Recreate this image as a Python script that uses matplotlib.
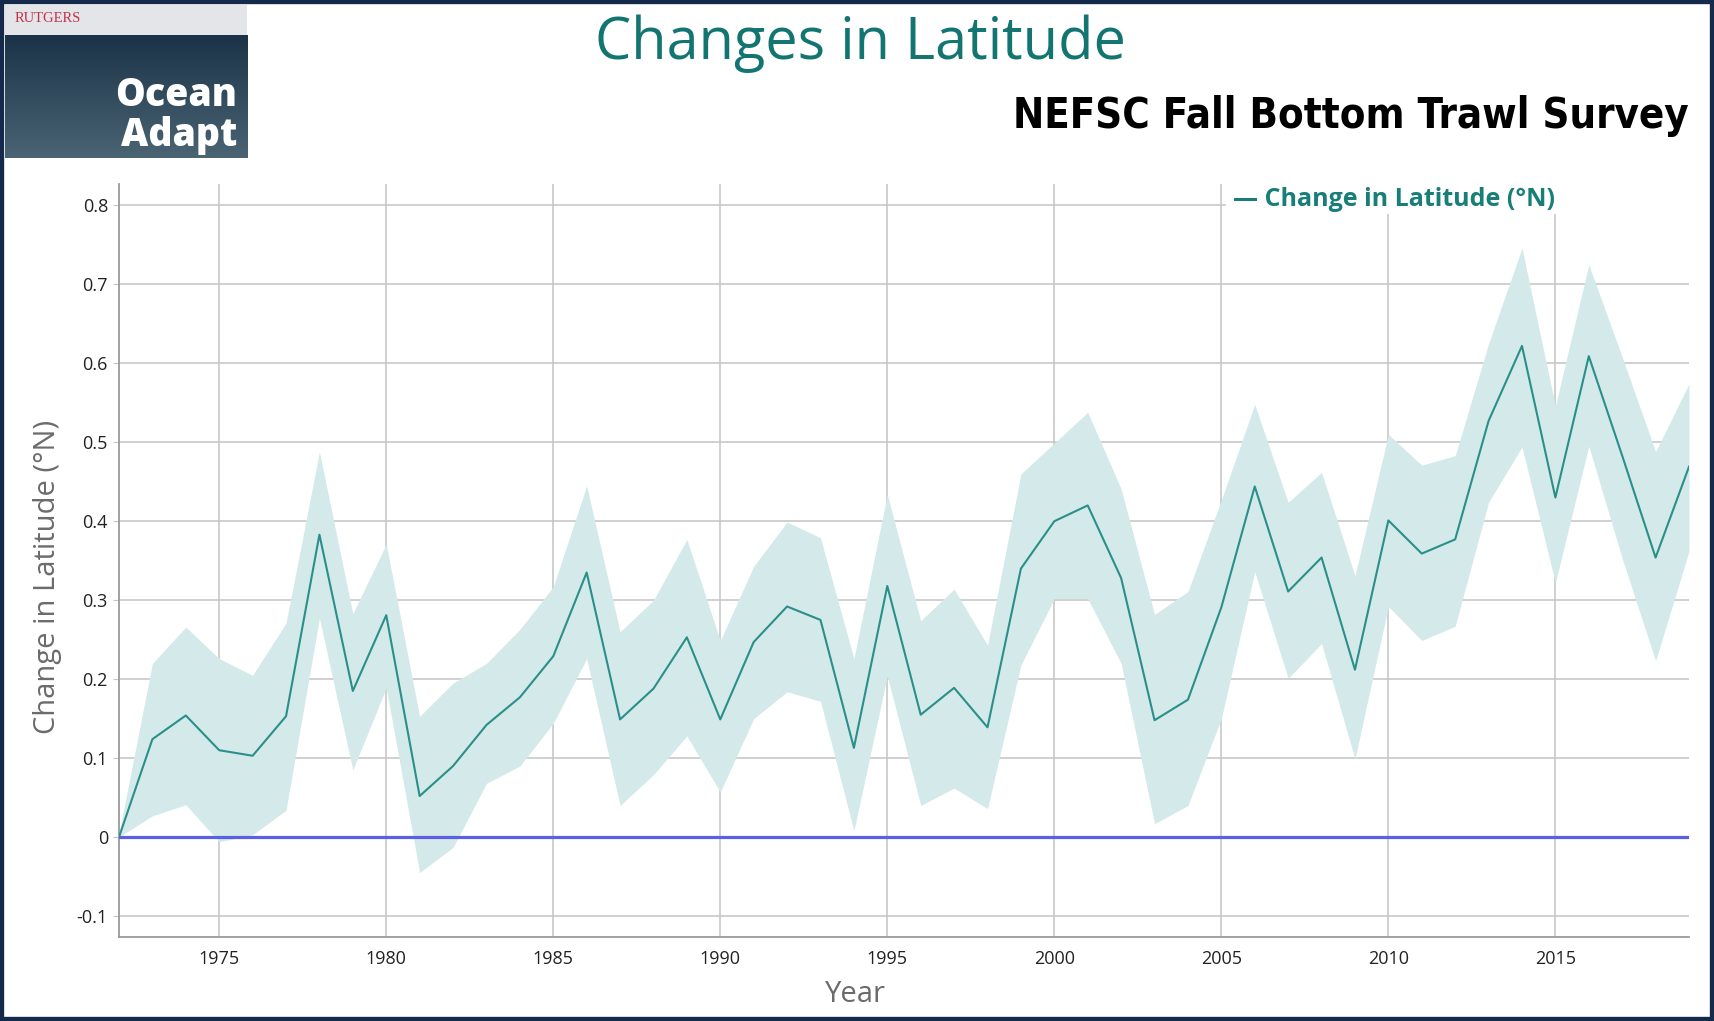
import matplotlib.pyplot as plt
import numpy as np
from matplotlib.patches import Rectangle
from matplotlib.colors import LinearSegmentedColormap

# data
years = list(range(1972, 2020))
mean_lat = [0.0, 0.124, 0.154, 0.110, 0.103, 0.153, 0.383, 0.185, 0.281, 0.052,
            0.090, 0.142, 0.177, 0.229, 0.335, 0.149, 0.188, 0.253, 0.149, 0.247,
            0.292, 0.275, 0.113, 0.318, 0.155, 0.189, 0.139, 0.340, 0.400, 0.420,
            0.328, 0.148, 0.174, 0.291, 0.444, 0.311, 0.354, 0.212, 0.401, 0.359,
            0.377, 0.527, 0.622, 0.430, 0.609, 0.483, 0.354, 0.469]
upper_lat = [0.005, 0.220, 0.266, 0.226, 0.205, 0.271, 0.488, 0.283, 0.371, 0.153,
             0.195, 0.220, 0.263, 0.317, 0.445, 0.260, 0.300, 0.377, 0.249, 0.343,
             0.399, 0.379, 0.226, 0.434, 0.274, 0.314, 0.243, 0.460, 0.499, 0.538,
             0.441, 0.282, 0.311, 0.427, 0.548, 0.424, 0.462, 0.331, 0.510, 0.471,
             0.483, 0.625, 0.746, 0.546, 0.725, 0.608, 0.488, 0.574]
lower_lat = [0.0, 0.027, 0.041, -0.006, 0.003, 0.034, 0.277, 0.085, 0.189, -0.045,
             -0.013, 0.068, 0.090, 0.144, 0.226, 0.040, 0.079, 0.128, 0.057, 0.150,
             0.184, 0.172, 0.008, 0.204, 0.040, 0.062, 0.036, 0.218, 0.302, 0.302,
             0.220, 0.017, 0.040, 0.150, 0.336, 0.201, 0.245, 0.099, 0.292, 0.249,
             0.267, 0.424, 0.494, 0.322, 0.495, 0.353, 0.223, 0.362]
x_ticks = [1975, 1980, 1985, 1990, 1995, 2000, 2005, 2010, 2015]
y_ticks = [-0.1, 0, 0.1, 0.2, 0.3, 0.4, 0.5, 0.6, 0.7, 0.8]
y_tick_labels = ["-0.1", "0", "0.1", "0.2", "0.3", "0.4", "0.5", "0.6", "0.7", "0.8"]

teal = "#2b8f89"
band = "#d4eaea"
grid_c = "#c4c4c4"

plt.rcParams['font.family'] = ['Open Sans', 'DejaVu Sans']

fig = plt.figure(figsize=(17.14, 10.21), dpi=100)
W, H = 1714, 1021

# main axes
ax = fig.add_axes([119 / W, 1 - 937 / H, (1689 - 119) / W, (937 - 184) / H])
ax.fill_between(years, lower_lat, upper_lat, color=band, lw=0, zorder=2)
ax.plot(years, mean_lat, color=teal, lw=1.5, zorder=4)
ax.axhline(0, color="#5a5fe3", lw=2.3, zorder=5)

ax.set_xlim(1972, 2019)
ax.set_ylim(-0.1265, 0.827)
ax.set_xticks(x_ticks)
ax.set_yticks(y_ticks)
ax.set_yticklabels(y_tick_labels)
ax.grid(True, color=grid_c, lw=1.1, zorder=1)
ax.set_axisbelow(True)
for s in ["top", "right"]:
    ax.spines[s].set_visible(False)
for s in ["left", "bottom"]:
    ax.spines[s].set_color("#9a9a9a")
    ax.spines[s].set_linewidth(1.3)
ax.tick_params(axis="y", length=4, color=grid_c, labelsize=13, pad=4, labelcolor="#222222")
ax.tick_params(axis="x", length=0, labelsize=13, pad=9, labelcolor="#222222")
ax.set_xlabel("Year", fontsize=21, color="#6b6b6b", va="center")
ax.set_ylabel("Change in Latitude (°N)", fontsize=21, color="#6b6b6b", va="center")
ax.xaxis.set_label_coords(0.469, -0.077)
ax.yaxis.set_label_coords(-0.0455, 0.478)

# legend with white backing
ax.add_patch(Rectangle((2005.15, 0.7895), 2019.5 - 2005.15, 0.04, facecolor="white",
                       edgecolor="none", zorder=3, clip_on=False))
ax.text(2005.35, 0.808, "— Change in Latitude (°N)", color="#177f78", fontsize=18,
        fontweight="bold", va="center", ha="left", zorder=6)

# titles
fig.text(860 / W, 1 - 44 / H, "Changes in Latitude", color="#137572", fontsize=41.5,
         ha="center", va="center")
fig.text(1689 / W, 1 - 116 / H, "NEFSC Fall Bottom Trawl Survey", color="black",
         fontsize=30, fontweight="bold", fontstretch="condensed", ha="right", va="center",
         family=["Liberation Sans Narrow", "DejaVu Sans"])

# logo block
strip = fig.add_axes([5 / W, 1 - 35 / H, 242 / W, 30 / H])
strip.set_facecolor("#e3e5e9")
strip.set_xticks([])
strip.set_yticks([])
for s in strip.spines.values():
    s.set_visible(False)
strip.text(0.04, 0.55, "RUTGERS", color="#c0344c", fontsize=10.5,
           family=["Liberation Serif", "DejaVu Serif"], va="center", ha="left")

logo = fig.add_axes([5 / W, 1 - 158 / H, 242 / W, 123 / H])
grad = np.linspace(0, 1, 100).reshape(-1, 1)
cmap = LinearSegmentedColormap.from_list("oa", ["#1a3347", "#4b6474"])
logo.imshow(grad, aspect="auto", cmap=cmap, extent=[0, 1, 0, 1], origin="upper")
logo.set_xticks([])
logo.set_yticks([])
for s in logo.spines.values():
    s.set_visible(False)
logo.text(0.96, 0.51, "Ocean", color="white", fontsize=27, fontweight=800,
          ha="right", va="center")
logo.text(0.96, 0.18, "Adapt", color="white", fontsize=27, fontweight=800,
          ha="right", va="center")

# frame around the whole picture
fig.patches.append(Rectangle((0, 0), 1, 1, transform=fig.transFigure, fill=False,
                             edgecolor="#15294a", lw=6, zorder=10))

fig.savefig("out.png", dpi=100)
